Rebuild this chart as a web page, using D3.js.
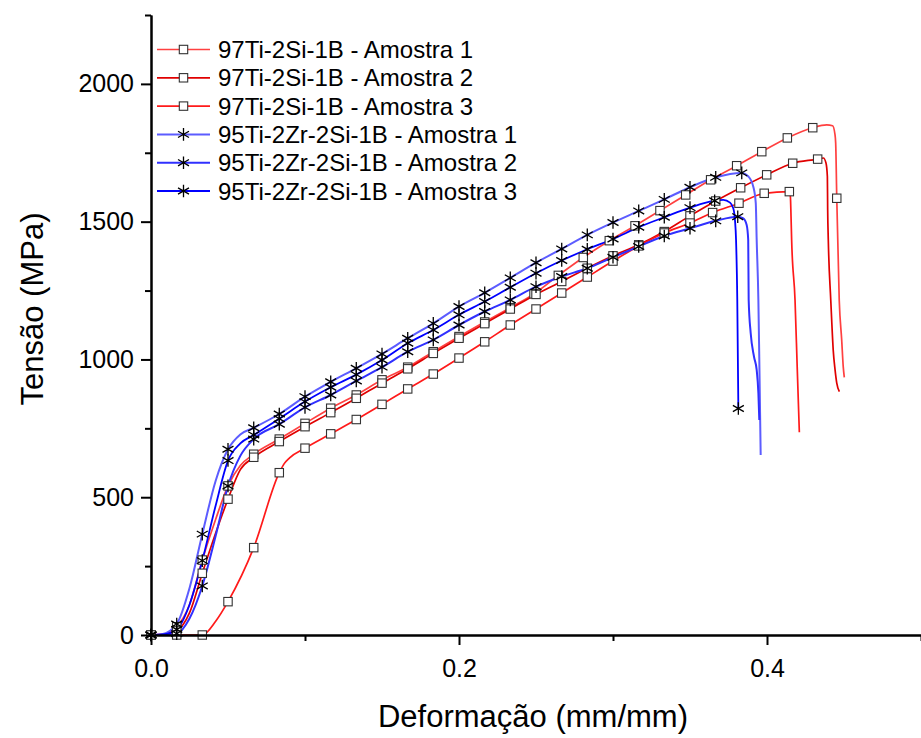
<!DOCTYPE html>
<html>
<head>
<meta charset="utf-8">
<script src="https://cdn.jsdelivr.net/npm/d3@7"></script>
<style>
  body { margin: 0; background: #fff; }
  text { font-family: "Liberation Sans", Arial, sans-serif; fill: #000; }
</style>
</head>
<body>
<svg width="921" height="738"></svg>
<script>
const width = 921, height = 738;

// axis ticks
const xTicks = [0, 0.2, 0.4], xMinor = [0.1, 0.3, 0.5];
const yTicks = [0, 500, 1000, 1500, 2000], yMinor = [250, 750, 1250, 1750, 2250];

const legendLabels = [
  "97Ti-2Si-1B - Amostra 1", "97Ti-2Si-1B - Amostra 2", "97Ti-2Si-1B - Amostra 3",
  "95Ti-2Zr-2Si-1B - Amostra 1", "95Ti-2Zr-2Si-1B - Amostra 2", "95Ti-2Zr-2Si-1B - Amostra 3"
];

// [strain, stress] at the symbols
const tiA1 = [[0,0],[0.0167,30],[0.0333,272],[0.05,541],[0.0667,656],[0.0833,711],[0.1,768],[0.1167,823],
  [0.1333,871],[0.15,926],[0.1667,972],[0.1833,1028],[0.2,1083],[0.2167,1136],[0.2333,1188],[0.2487,1238],
  [0.2645,1305],[0.2807,1370],[0.2976,1431],[0.3143,1485],[0.3305,1540],[0.3472,1597],[0.3634,1652],
  [0.3803,1703],[0.3966,1754],[0.4132,1804],[0.4297,1841],[0.4453,1585]];
const tiA2 = [[0,0],[0.0167,15],[0.0333,224],[0.05,493],[0.0667,645],[0.0833,702],[0.1,756],[0.1167,807],
  [0.1333,859],[0.15,914],[0.1667,966],[0.1833,1022],[0.2,1077],[0.2167,1130],[0.2333,1183],[0.25,1236],
  [0.2667,1283],[0.2833,1331],[0.3,1376],[0.3167,1416],[0.3333,1464],[0.35,1521],[0.3667,1575],
  [0.3829,1623],[0.3998,1670],[0.4167,1712],[0.4329,1727]];
const tiA3 = [[0,0],[0.0167,0],[0.0333,0],[0.05,121],[0.0667,317],[0.0833,589],[0.1,678],[0.1167,730],
  [0.1333,782],[0.15,837],[0.1667,893],[0.1833,947],[0.2,1005],[0.2167,1064],[0.2333,1125],[0.25,1183],
  [0.2667,1241],[0.2833,1299],[0.3,1357],[0.3167,1412],[0.3333,1459],[0.35,1495],[0.3647,1533],
  [0.3818,1567],[0.3982,1603],[0.4145,1609]];
const zrA1 = [[0,0],[0.0167,40],[0.0333,366],[0.05,674],[0.0667,752],[0.0833,802],[0.1,865],[0.1167,919],
  [0.1333,968],[0.15,1020],[0.1667,1077],[0.1833,1131],[0.2,1192],[0.2167,1242],[0.2333,1296],[0.25,1351],
  [0.2667,1401],[0.2833,1452],[0.3,1497],[0.3167,1539],[0.3333,1581],[0.35,1625],[0.3667,1661],[0.3836,1677]];
const zrA2 = [[0,0],[0.0167,5],[0.0333,178],[0.05,541],[0.0667,711],[0.0833,765],[0.1,826],[0.1167,871],
  [0.1333,922],[0.15,972],[0.1667,1028],[0.1833,1071],[0.2,1125],[0.2167,1174],[0.2333,1216],[0.25,1264],
  [0.2667,1301],[0.2833,1331],[0.3,1371],[0.3167,1410],[0.3333,1448],[0.35,1476],[0.3667,1503],[0.381,1518]];
const zrA3 = [[0,0],[0.0167,20],[0.0333,270],[0.05,633],[0.0667,726],[0.0833,785],[0.1,847],[0.1167,899],
  [0.1333,945],[0.15,998],[0.1667,1059],[0.1833,1107],[0.2,1162],[0.2167,1210],[0.2333,1262],[0.25,1313],
  [0.2667,1359],[0.2833,1400],[0.3,1437],[0.3167,1480],[0.3333,1516],[0.35,1551],[0.366,1576],[0.3814,822]];

// extra curve points between symbols (toe region, peak and fracture)
const tiA1Curve = [[0.008,3],[0.025,110],[0.042,420],[0.058,615],[0.4388,1851],[0.4426,1848],[0.4441,1818],
  [0.4446,1785],[0.4469,1216],[0.4485,1071],[0.4495,974],[0.4502,935]];
const tiA2Curve = [[0.008,2],[0.025,80],[0.042,370],[0.058,600],[0.4366,1731],[0.4383,1713],[0.4392,1664],
  [0.4394,1543],[0.4398,1434],[0.4414,1216],[0.442,1143],[0.443,1034],[0.4442,962],[0.4453,914],[0.447,883]];
const tiA3Curve = [[0.042,50],[0.0865,622],[0.09,643],[0.4152,1590],[0.4156,1520],[0.416,1434],
  [0.4182,1216],[0.4196,974],[0.421,736]];
const zrA1Curve = [[0.007,3],[0.025,170],[0.042,560],[0.058,728],[0.3879,1664],[0.3911,1627],[0.3927,1568],
  [0.3933,1434],[0.3944,1216],[0.395,1000],[0.3959,653]];
const zrA2Curve = [[0.009,1],[0.025,60],[0.042,360],[0.058,650],[0.3846,1512],[0.3868,1488],[0.3878,1434],
  [0.3881,1216],[0.3894,1096],[0.3916,1009],[0.3933,962],[0.3944,878],[0.395,780]];
const zrA3Curve = [[0.008,2],[0.025,110],[0.042,470],[0.058,695],[0.3716,1579],[0.376,1569],[0.3781,1549],
  [0.3792,1506],[0.3799,1434],[0.3807,1216]];

const series = [
  { name: legendLabels[0], marks: tiA1, curve: tiA1Curve, color: "#ff4040", lw: 1.7, sym: "square" },
  { name: legendLabels[1], marks: tiA2, curve: tiA2Curve, color: "#e00000", lw: 1.7, sym: "square" },
  { name: legendLabels[2], marks: tiA3, curve: tiA3Curve, color: "#ff1a1a", lw: 1.7, sym: "square" },
  { name: legendLabels[3], marks: zrA1, curve: zrA1Curve, color: "#5c5cff", lw: 2, sym: "star" },
  { name: legendLabels[4], marks: zrA2, curve: zrA2Curve, color: "#3030ff", lw: 2, sym: "star" },
  { name: legendLabels[5], marks: zrA3, curve: zrA3Curve, color: "#0000ff", lw: 1.8, sym: "star" }
];

const x0 = 151, x1 = 921, y0 = 635, y1 = 15;
const x = d3.scaleLinear().domain([0, 0.5]).range([x0, x1]);
const y = d3.scaleLinear().domain([0, 2250]).range([y0, y1]);

const svg = d3.select("svg");

const line = d3.line()
  .x(d => x(d[0]))
  .y(d => y(d[1]))
  .curve(d3.curveMonotoneX);

const starPath = r => {
  const a = r * 0.87, b = r * 0.5;
  return `M0,${-r}L0,${r}M${-a},${-b}L${a},${b}M${-a},${b}L${a},${-b}`;
};

function drawSymbol(g, sym) {
  if (sym === "square") {
    g.append("rect")
      .attr("x", -4.2).attr("y", -4.2)
      .attr("width", 8.4).attr("height", 8.4)
      .attr("fill", "#fff").attr("stroke", "#333").attr("stroke-width", 1.1);
  } else {
    g.append("path")
      .attr("d", starPath(6.3))
      .attr("fill", "none").attr("stroke", "#000").attr("stroke-width", 1.3);
  }
}

// curves
series.forEach(s => {
  const pts = s.marks.concat(s.curve).sort((a, b) => a[0] - b[0]);
  svg.append("path")
    .attr("d", line(pts))
    .attr("fill", "none")
    .attr("stroke", s.color)
    .attr("stroke-width", s.lw);
});
series.forEach(s => {
  s.marks.forEach(d => {
    const g = svg.append("g").attr("transform", `translate(${x(d[0])},${y(d[1])})`);
    drawSymbol(g, s.sym);
  });
});

// axes
svg.append("g").attr("transform", `translate(0,${y0})`)
  .call(d3.axisBottom(x).tickValues(xTicks).tickSize(10).tickSizeOuter(0)
    .tickPadding(14).tickFormat(d3.format(".1f")));
svg.append("g").attr("transform", `translate(0,${y0})`)
  .call(d3.axisBottom(x).tickValues(xMinor).tickSize(6).tickSizeOuter(0).tickFormat(""));
svg.append("g").attr("transform", `translate(${x0},0)`)
  .call(d3.axisLeft(y).tickValues(yTicks).tickSize(10).tickSizeOuter(0)
    .tickPadding(7).tickFormat(d3.format("d")));
svg.append("g").attr("transform", `translate(${x0},0)`)
  .call(d3.axisLeft(y).tickValues(yMinor).tickSize(6).tickSizeOuter(0).tickFormat(""));

svg.selectAll(".domain").attr("stroke", "#000").attr("stroke-width", 2);
svg.selectAll(".tick line").attr("stroke", "#000").attr("stroke-width", 2);
svg.selectAll(".tick text")
  .style("font-family", "'Liberation Sans', Arial, sans-serif")
  .style("font-size", "25px").attr("fill", "#000");

// axis titles
svg.append("text")
  .attr("x", 533).attr("y", 727)
  .attr("text-anchor", "middle")
  .style("font-size", "31px")
  .text("Deformação (mm/mm)");
svg.append("text")
  .attr("transform", `translate(43,309) rotate(-90)`)
  .attr("text-anchor", "middle")
  .style("font-size", "31px")
  .text("Tensão (MPa)");

// legend
const legend = svg.append("g");
series.forEach((s, i) => {
  const ly = 49.5 + i * 28.3;
  legend.append("line")
    .attr("x1", 157).attr("x2", 210).attr("y1", ly).attr("y2", ly)
    .attr("stroke", s.color).attr("stroke-width", s.lw);
  drawSymbol(legend.append("g").attr("transform", `translate(183.5,${ly})`), s.sym);
  legend.append("text")
    .attr("x", 218).attr("y", ly).attr("dy", "0.36em")
    .style("font-size", "24px")
    .text(s.name);
});
</script>
</body>
</html>
